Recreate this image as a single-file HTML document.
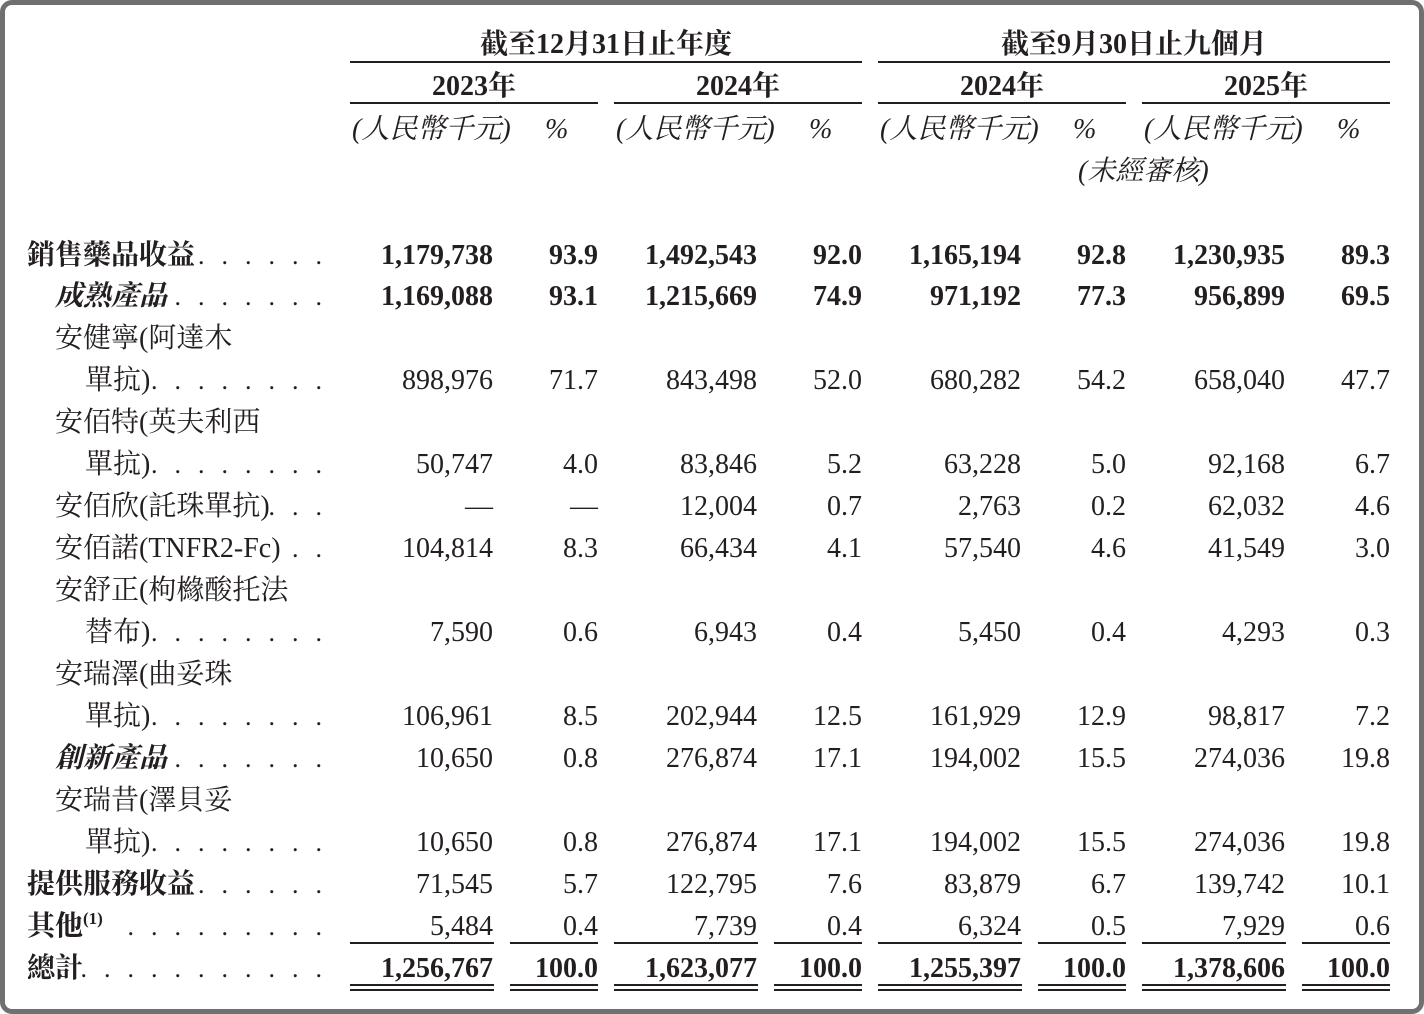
<!DOCTYPE html>
<html><head><meta charset="utf-8"><style>
html,body{margin:0;padding:0;background:#fff}
body{width:1424px;height:1014px;position:relative;overflow:hidden;font-family:"Liberation Serif","Noto Serif CJK SC",serif;color:#231f20;font-size:28px}
.frame{position:absolute;left:0;top:0;width:1414px;height:1004px;border:5px solid #707070;border-radius:12px}
.t{position:absolute;white-space:nowrap;line-height:30px}
.r{position:absolute;white-space:nowrap;line-height:30px;text-align:right}
.b{font-weight:bold}
.i{font-style:italic}
.ln{position:absolute;height:2px;background:#231f20}
.d{position:absolute;white-space:nowrap;line-height:30px;letter-spacing:17px;right:1085px;font-size:26px}
.h{position:absolute;white-space:nowrap;line-height:30px;text-align:center;font-weight:bold}
</style></head><body>
<div class="frame"></div>

<div class="h" style="left:350px;width:512px;top:30px">截至12月31日止年度</div>
<div class="h" style="left:878px;width:512px;top:30px">截至9月30日止九個月</div>
<div class="ln" style="left:350px;width:512px;top:61px"></div>
<div class="ln" style="left:878px;width:512px;top:61px"></div>
<div class="h" style="left:350px;width:248px;top:72px">2023年</div>
<div class="h" style="left:614px;width:248px;top:72px">2024年</div>
<div class="h" style="left:878px;width:248px;top:72px">2024年</div>
<div class="h" style="left:1142px;width:248px;top:72px">2025年</div>
<div class="ln" style="left:350px;width:248px;top:102px"></div>
<div class="ln" style="left:614px;width:248px;top:102px"></div>
<div class="ln" style="left:878px;width:248px;top:102px"></div>
<div class="ln" style="left:1142px;width:248px;top:102px"></div>
<div class="t i" style="left:352px;top:115px">(人民幣千元)</div>
<div class="t i" style="left:545px;top:115px">%</div>
<div class="t i" style="left:616px;top:115px">(人民幣千元)</div>
<div class="t i" style="left:809px;top:115px">%</div>
<div class="t i" style="left:880px;top:115px">(人民幣千元)</div>
<div class="t i" style="left:1073px;top:115px">%</div>
<div class="t i" style="left:1144px;top:115px">(人民幣千元)</div>
<div class="t i" style="left:1337px;top:115px">%</div>
<div class="t i" style="left:1078px;top:157px">(未經審核)</div>

<div class="t b" style="left:27px;top:241px">銷售藥品收益</div><div class="d" style="top:241px">......</div>
<div class="r b" style="right:931px;top:241px">1,179,738</div><div class="r b" style="right:826px;top:241px">93.9</div><div class="r b" style="right:667px;top:241px">1,492,543</div><div class="r b" style="right:562px;top:241px">92.0</div><div class="r b" style="right:403px;top:241px">1,165,194</div><div class="r b" style="right:298px;top:241px">92.8</div><div class="r b" style="right:139px;top:241px">1,230,935</div><div class="r b" style="right:34px;top:241px">89.3</div>

<div class="t b i" style="left:55px;top:282px">成熟產品</div><div class="d" style="top:282px">........</div>
<div class="r b" style="right:931px;top:282px">1,169,088</div><div class="r b" style="right:826px;top:282px">93.1</div><div class="r b" style="right:667px;top:282px">1,215,669</div><div class="r b" style="right:562px;top:282px">74.9</div><div class="r b" style="right:403px;top:282px">971,192</div><div class="r b" style="right:298px;top:282px">77.3</div><div class="r b" style="right:139px;top:282px">956,899</div><div class="r b" style="right:34px;top:282px">69.5</div>

<div class="t" style="left:55px;top:324px">安健寧(阿達木</div>
<div class="t" style="left:85px;top:366px">單抗)</div><div class="d" style="top:366px">.........</div>
<div class="r" style="right:931px;top:366px">898,976</div><div class="r" style="right:826px;top:366px">71.7</div><div class="r" style="right:667px;top:366px">843,498</div><div class="r" style="right:562px;top:366px">52.0</div><div class="r" style="right:403px;top:366px">680,282</div><div class="r" style="right:298px;top:366px">54.2</div><div class="r" style="right:139px;top:366px">658,040</div><div class="r" style="right:34px;top:366px">47.7</div>

<div class="t" style="left:55px;top:408px">安佰特(英夫利西</div>
<div class="t" style="left:85px;top:450px">單抗)</div><div class="d" style="top:450px">.........</div>
<div class="r" style="right:931px;top:450px">50,747</div><div class="r" style="right:826px;top:450px">4.0</div><div class="r" style="right:667px;top:450px">83,846</div><div class="r" style="right:562px;top:450px">5.2</div><div class="r" style="right:403px;top:450px">63,228</div><div class="r" style="right:298px;top:450px">5.0</div><div class="r" style="right:139px;top:450px">92,168</div><div class="r" style="right:34px;top:450px">6.7</div>

<div class="t" style="left:55px;top:492px">安佰欣(託珠單抗)</div><div class="d" style="top:492px">...</div>
<div class="r" style="right:931px;top:492px">—</div><div class="r" style="right:826px;top:492px">—</div><div class="r" style="right:667px;top:492px">12,004</div><div class="r" style="right:562px;top:492px">0.7</div><div class="r" style="right:403px;top:492px">2,763</div><div class="r" style="right:298px;top:492px">0.2</div><div class="r" style="right:139px;top:492px">62,032</div><div class="r" style="right:34px;top:492px">4.6</div>

<div class="t" style="left:55px;top:534px">安佰諾(TNFR2-Fc)</div><div class="d" style="top:534px">..</div>
<div class="r" style="right:931px;top:534px">104,814</div><div class="r" style="right:826px;top:534px">8.3</div><div class="r" style="right:667px;top:534px">66,434</div><div class="r" style="right:562px;top:534px">4.1</div><div class="r" style="right:403px;top:534px">57,540</div><div class="r" style="right:298px;top:534px">4.6</div><div class="r" style="right:139px;top:534px">41,549</div><div class="r" style="right:34px;top:534px">3.0</div>

<div class="t" style="left:55px;top:576px">安舒正(枸櫞酸托法</div>
<div class="t" style="left:85px;top:618px">替布)</div><div class="d" style="top:618px">.........</div>
<div class="r" style="right:931px;top:618px">7,590</div><div class="r" style="right:826px;top:618px">0.6</div><div class="r" style="right:667px;top:618px">6,943</div><div class="r" style="right:562px;top:618px">0.4</div><div class="r" style="right:403px;top:618px">5,450</div><div class="r" style="right:298px;top:618px">0.4</div><div class="r" style="right:139px;top:618px">4,293</div><div class="r" style="right:34px;top:618px">0.3</div>

<div class="t" style="left:55px;top:660px">安瑞澤(曲妥珠</div>
<div class="t" style="left:85px;top:702px">單抗)</div><div class="d" style="top:702px">.........</div>
<div class="r" style="right:931px;top:702px">106,961</div><div class="r" style="right:826px;top:702px">8.5</div><div class="r" style="right:667px;top:702px">202,944</div><div class="r" style="right:562px;top:702px">12.5</div><div class="r" style="right:403px;top:702px">161,929</div><div class="r" style="right:298px;top:702px">12.9</div><div class="r" style="right:139px;top:702px">98,817</div><div class="r" style="right:34px;top:702px">7.2</div>

<div class="t b i" style="left:55px;top:744px">創新產品</div><div class="d" style="top:744px">........</div>
<div class="r" style="right:931px;top:744px">10,650</div><div class="r" style="right:826px;top:744px">0.8</div><div class="r" style="right:667px;top:744px">276,874</div><div class="r" style="right:562px;top:744px">17.1</div><div class="r" style="right:403px;top:744px">194,002</div><div class="r" style="right:298px;top:744px">15.5</div><div class="r" style="right:139px;top:744px">274,036</div><div class="r" style="right:34px;top:744px">19.8</div>

<div class="t" style="left:55px;top:786px">安瑞昔(澤貝妥</div>
<div class="t" style="left:85px;top:828px">單抗)</div><div class="d" style="top:828px">.........</div>
<div class="r" style="right:931px;top:828px">10,650</div><div class="r" style="right:826px;top:828px">0.8</div><div class="r" style="right:667px;top:828px">276,874</div><div class="r" style="right:562px;top:828px">17.1</div><div class="r" style="right:403px;top:828px">194,002</div><div class="r" style="right:298px;top:828px">15.5</div><div class="r" style="right:139px;top:828px">274,036</div><div class="r" style="right:34px;top:828px">19.8</div>

<div class="t b" style="left:27px;top:870px">提供服務收益</div><div class="d" style="top:870px">......</div>
<div class="r" style="right:931px;top:870px">71,545</div><div class="r" style="right:826px;top:870px">5.7</div><div class="r" style="right:667px;top:870px">122,795</div><div class="r" style="right:562px;top:870px">7.6</div><div class="r" style="right:403px;top:870px">83,879</div><div class="r" style="right:298px;top:870px">6.7</div><div class="r" style="right:139px;top:870px">139,742</div><div class="r" style="right:34px;top:870px">10.1</div>

<div class="t b" style="left:27px;top:912px">其他<sup style="font-size:17px;line-height:0;vertical-align:11px">(1)</sup></div><div class="d" style="top:912px">.........</div>
<div class="r" style="right:931px;top:912px">5,484</div><div class="r" style="right:826px;top:912px">0.4</div><div class="r" style="right:667px;top:912px">7,739</div><div class="r" style="right:562px;top:912px">0.4</div><div class="r" style="right:403px;top:912px">6,324</div><div class="r" style="right:298px;top:912px">0.5</div><div class="r" style="right:139px;top:912px">7,929</div><div class="r" style="right:34px;top:912px">0.6</div>

<div class="ln" style="left:350px;width:144px;top:942px"></div><div class="ln" style="left:510px;width:88px;top:942px"></div>
<div class="ln" style="left:614px;width:144px;top:942px"></div><div class="ln" style="left:774px;width:88px;top:942px"></div>
<div class="ln" style="left:878px;width:144px;top:942px"></div><div class="ln" style="left:1038px;width:88px;top:942px"></div>
<div class="ln" style="left:1142px;width:144px;top:942px"></div><div class="ln" style="left:1302px;width:88px;top:942px"></div>

<div class="t b" style="left:27px;top:954px">總計</div><div class="d" style="top:954px">............</div>
<div class="r b" style="right:931px;top:954px">1,256,767</div><div class="r b" style="right:826px;top:954px">100.0</div><div class="r b" style="right:667px;top:954px">1,623,077</div><div class="r b" style="right:562px;top:954px">100.0</div><div class="r b" style="right:403px;top:954px">1,255,397</div><div class="r b" style="right:298px;top:954px">100.0</div><div class="r b" style="right:139px;top:954px">1,378,606</div><div class="r b" style="right:34px;top:954px">100.0</div>

<div class="ln" style="left:350px;width:144px;top:984px"></div><div class="ln" style="left:510px;width:88px;top:984px"></div>
<div class="ln" style="left:614px;width:144px;top:984px"></div><div class="ln" style="left:774px;width:88px;top:984px"></div>
<div class="ln" style="left:878px;width:144px;top:984px"></div><div class="ln" style="left:1038px;width:88px;top:984px"></div>
<div class="ln" style="left:1142px;width:144px;top:984px"></div><div class="ln" style="left:1302px;width:88px;top:984px"></div>
<div class="ln" style="left:350px;width:144px;top:989px"></div><div class="ln" style="left:510px;width:88px;top:989px"></div>
<div class="ln" style="left:614px;width:144px;top:989px"></div><div class="ln" style="left:774px;width:88px;top:989px"></div>
<div class="ln" style="left:878px;width:144px;top:989px"></div><div class="ln" style="left:1038px;width:88px;top:989px"></div>
<div class="ln" style="left:1142px;width:144px;top:989px"></div><div class="ln" style="left:1302px;width:88px;top:989px"></div>
</body></html>
